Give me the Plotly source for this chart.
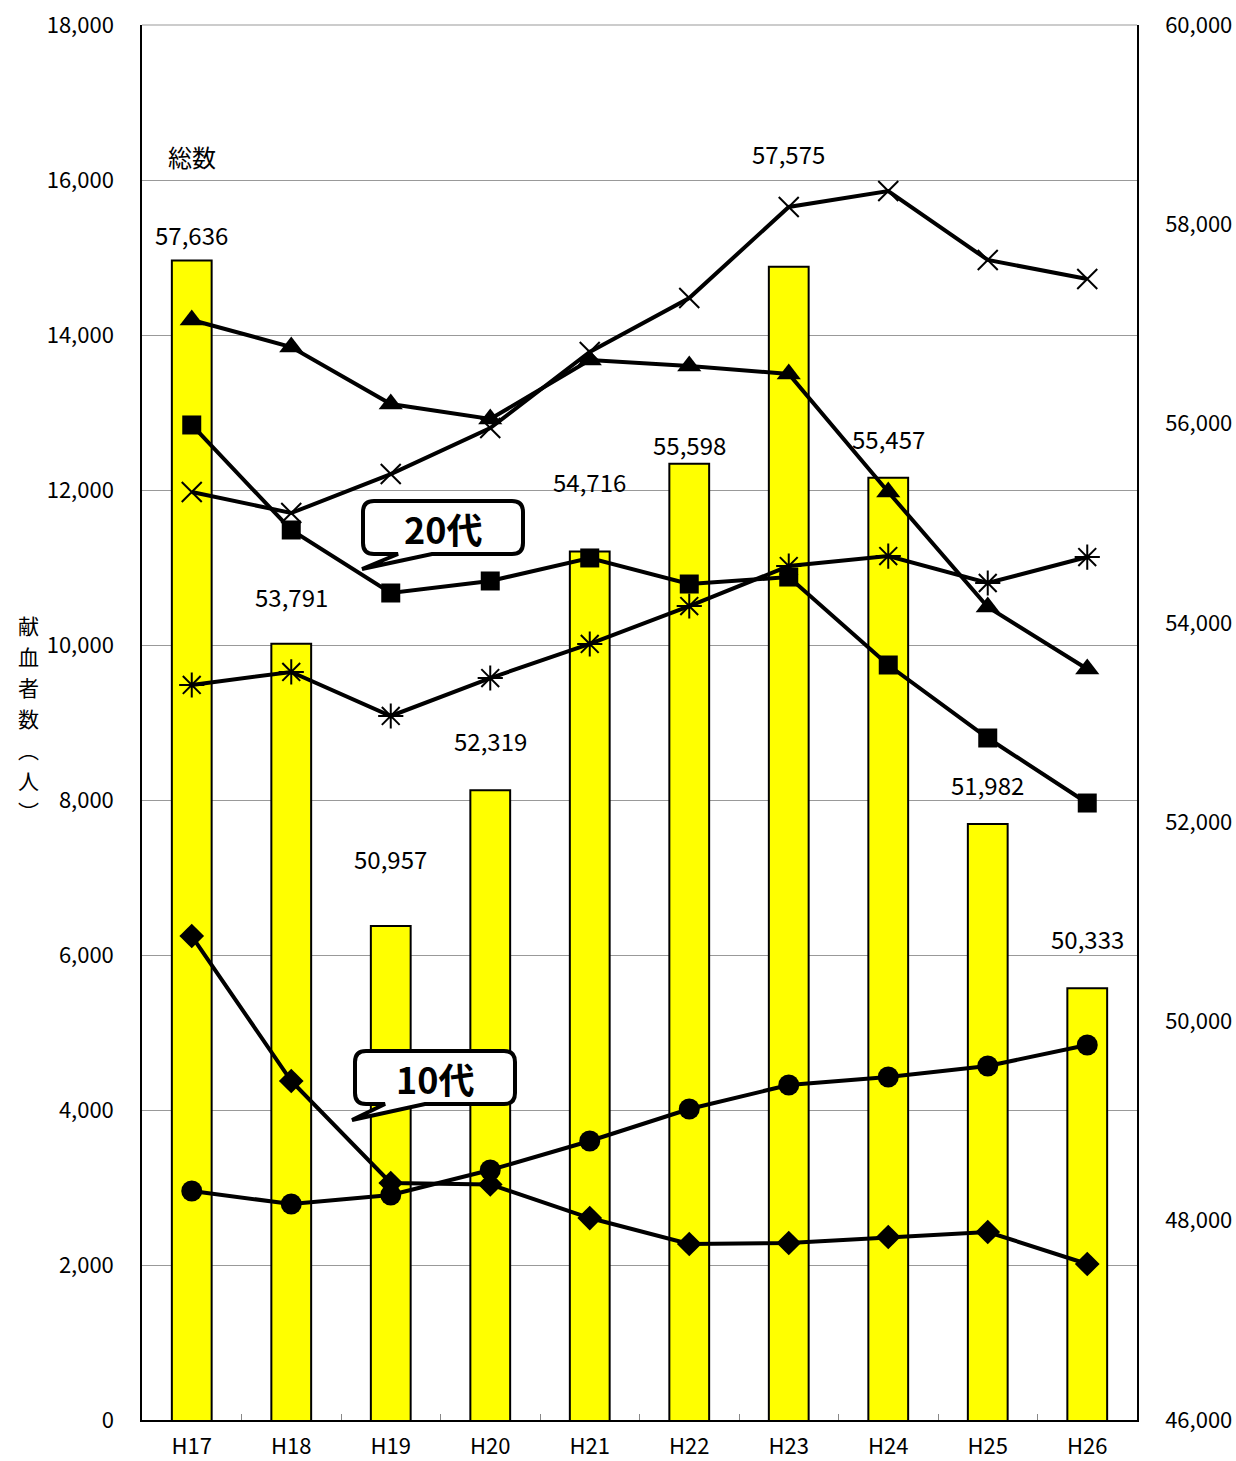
import plotly.graph_objects as go

years = ["H17", "H18", "H19", "H20", "H21", "H22", "H23", "H24", "H25", "H26"]
total = [57636, 53791, 50957, 52319, 54716, 55598, 57575, 55457, 51982, 50333]
age10 = [6245, 4374, 3058, 3040, 2606, 2271, 2284, 2361, 2426, 2013]
age20 = [12839, 11484, 10671, 10826, 11123, 10787, 10877, 9742, 8800, 7961]
age30 = [14194, 13845, 13110, 12916, 13677, 13600, 13497, 11974, 10490, 9690]
age40 = [11974, 11703, 12206, 12800, 13781, 14477, 15652, 15858, 14968, 14723]
age50 = [9484, 9652, 9084, 9574, 10013, 10503, 11019, 11148, 10800, 11135]
age60 = [2955, 2787, 2903, 3226, 3600, 4013, 4323, 4426, 4568, 4839]
label_shift = [26, 47, 68, 50, 70, 19, 113, 39, 39, 50]
y_title_chars = ["献", "血", "者", "数", "︵", "人", "︶"]

FONT = "Noto Sans CJK JP"
fig = go.Figure()

fig.add_trace(go.Bar(x=years, y=total, yaxis="y", width=0.4,
                     marker=dict(color="#FFFF00", line=dict(color="black", width=2)),
                     name="総数", showlegend=False))

series = [
    ("10代", age10, "diamond", 19, 0),
    ("20代", age20, "square", 19, 0),
    ("30代", age30, "triangle-up", 21, 0),
    ("40代", age40, "x-thin-open", 20, 2),
    ("50代", age50, "asterisk-open", 21, 2),
    ("60代", age60, "circle", 21, 0),
]
for name, vals, sym, sz, lw in series:
    mk = dict(symbol=sym, size=sz, color="black")
    if lw:
        mk["line"] = dict(color="black", width=lw)
    fig.add_trace(go.Scatter(x=years, y=vals, yaxis="y2", mode="lines+markers",
                             line=dict(color="black", width=4), marker=mk,
                             name=name, showlegend=False))

annotations = []
for i, (yr, v) in enumerate(zip(years, total)):
    annotations.append(dict(x=yr, y=v, xref="x", yref="y", text=f"{v:,}",
                            showarrow=False, yshift=label_shift[i], xanchor="center",
                            font=dict(family=FONT, size=24, color="black")))
annotations.append(dict(x=years[0], y=16300, xref="x", yref="y2", text="総数",
                        showarrow=False, xanchor="center",
                        font=dict(family=FONT, size=24, color="black")))

L, R, T, B = 142, 1137, 25, 1420
W, H = 1236, 1461
def P(px, py):
    return f"{(px - L) / (R - L):.5f},{(B - py) / (B - T):.5f}"
def PX(px):
    return (px - L) / (R - L)
def PY(py):
    return (B - py) / (B - T)

for k, ch in enumerate(y_title_chars):
    annotations.append(dict(x=PX(28), y=PY(625 + 31 * k), xref="paper", yref="paper",
                            xanchor="center", yanchor="middle", text=ch, showarrow=False,
                            font=dict(family=FONT, size=21, color="black")))

def callout(x0, y0, x1, y1, tb0, tb1, tipx, tipy, r=11):
    return ("M " + P(x0 + r, y0) + " L " + P(x1 - r, y0) + " Q " + P(x1, y0) + " " + P(x1, y0 + r)
            + " L " + P(x1, y1 - r) + " Q " + P(x1, y1) + " " + P(x1 - r, y1)
            + " L " + P(tb1, y1) + " L " + P(tipx, tipy) + " L " + P(tb0, y1)
            + " L " + P(x0 + r, y1) + " Q " + P(x0, y1) + " " + P(x0, y1 - r)
            + " L " + P(x0, y0 + r) + " Q " + P(x0, y0) + " " + P(x0 + r, y0) + " Z")

shapes = [
    dict(type="line", xref="paper", yref="paper", x0=0, x1=1, y0=1, y1=1,
         line=dict(color="#999999", width=1.2), layer="below"),
    dict(type="path", xref="paper", yref="paper",
         path=callout(363, 501, 523, 554, 398, 432, 362, 569),
         line=dict(color="black", width=4), fillcolor="white", layer="above"),
    dict(type="path", xref="paper", yref="paper",
         path=callout(355, 1051, 515, 1104, 385, 425, 352, 1120),
         line=dict(color="black", width=4), fillcolor="white", layer="above"),
]
annotations.append(dict(x=PX(443), y=PY(528), xref="paper", yref="paper",
                        xanchor="center", yanchor="middle",
                        text="<b>20代</b>", showarrow=False,
                        font=dict(family=FONT, size=36, color="black")))
annotations.append(dict(x=PX(435), y=PY(1078), xref="paper", yref="paper",
                        xanchor="center", yanchor="middle",
                        text="<b>10代</b>", showarrow=False,
                        font=dict(family=FONT, size=36, color="black")))

fig.update_layout(
    width=W, height=H,
    margin=dict(l=L, r=W - R, t=T, b=H - B, autoexpand=False),
    paper_bgcolor="white", plot_bgcolor="white",
    font=dict(family=FONT, size=22, color="black"),
    bargap=0.6,
    xaxis=dict(type="category", range=[-0.5, 9.5], showline=True, linecolor="black", linewidth=2,
               ticks="inside", tickson="boundaries", ticklen=6, tickcolor="#888888",
               tickfont=dict(family=FONT, size=22), ticklabelstandoff=6, showgrid=False,
               automargin=False),
    yaxis=dict(side="right", range=[46000, 60000], dtick=2000, tickformat=",",
               showline=True, linecolor="black", linewidth=1.5, showgrid=False, zeroline=False,
               ticks="", tickfont=dict(family=FONT, size=22), ticklabelstandoff=22,
               automargin=False, ticklabeloverflow="allow"),
    yaxis2=dict(side="left", overlaying="y", range=[0, 18000], dtick=2000, tickformat=",",
                showline=True, linecolor="black", linewidth=1.5, showgrid=True,
                gridcolor="#999999", gridwidth=1.2, zeroline=False,
                ticks="", tickfont=dict(family=FONT, size=22), ticklabelstandoff=22,
                automargin=False, ticklabeloverflow="allow"),
    annotations=annotations, shapes=shapes,
)

fig.write_html("out.html", config={"displayModeBar": False},
               post_script="document.body.style.margin='0';"
                           "document.documentElement.style.overflow='hidden';")
